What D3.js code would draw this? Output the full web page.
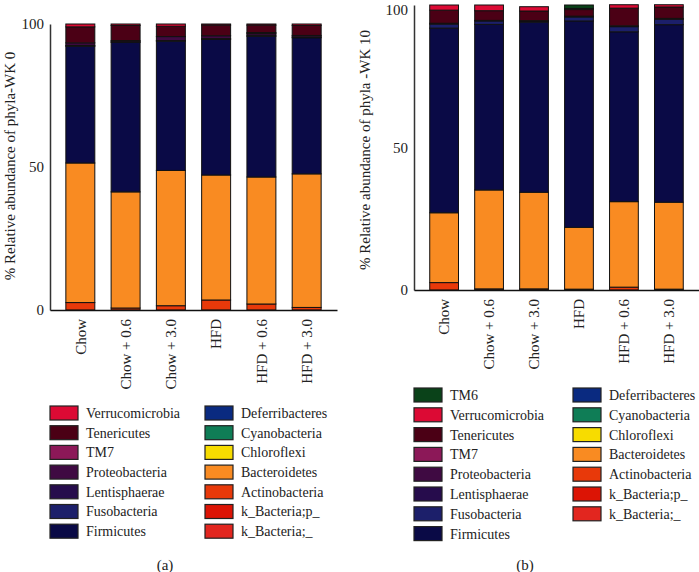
<!DOCTYPE html>
<html>
<head>
<meta charset="utf-8">
<script src="https://cdn.jsdelivr.net/npm/d3@7"></script>
<style>
  body { margin: 0; background: #fff; }
  svg text { font-family: "Liberation Serif", "DejaVu Serif", serif; fill: #222; }
</style>
</head>
<body>
<script>
// groups on the x axis
const groups = ["Chow", "Chow + 0.6", "Chow + 3.0", "HFD", "HFD + 0.6", "HFD + 3.0"];

// phyla, bottom of the stack first
const phyla = ["k_Bacteria;_", "k_Bacteria;p_", "Actinobacteria", "Bacteroidetes", "Chloroflexi",
  "Cyanobacteria", "Deferribacteres", "Firmicutes", "Fusobacteria", "Lentisphaerae",
  "Proteobacteria", "TM7", "Tenericutes", "Verrucomicrobia", "TM6"];

const phylaColors = ["#e2261f", "#dc1405", "#e8390a", "#f98b22", "#f7dc00",
  "#0f7d56", "#0a2a80", "#0a0a46", "#1c1f6a", "#260c4c",
  "#3f0a42", "#8c1858", "#4b0015", "#dc0a34", "#0a4219"];

// week 0, % per group
const wk0Actinobacteria = [2.6, 0.7, 1.5, 3.5, 2.1, 0.9];
const wk0Bacteroidetes = [48.8, 40.6, 47.3, 43.7, 44.4, 46.7];
const wk0Firmicutes = [40.8, 52.3, 45.2, 47.4, 49.2, 47.6];
const wk0Fusobacteria = [0.3, 0.2, 0.2, 0.3, 0.4, 0.3];
const wk0Proteobacteria = [0.9, 0.4, 1.4, 1.0, 0.6, 0.5];
const wk0TM7 = [0, 0, 0, 0, 0.3, 0];
const wk0Tenericutes = [5.6, 5.3, 3.6, 3.7, 2.6, 3.5];
const wk0Verrucomicrobia = [1.0, 0.5, 0.8, 0.4, 0.4, 0.5];

// week 10, % per group
const wk10Actinobacteria = [2.6, 0.4, 0.4, 0.3, 1.0, 0.3];
const wk10Bacteroidetes = [24.5, 34.7, 33.9, 21.7, 30.0, 30.5];
const wk10Firmicutes = [64.8, 58.1, 59.7, 72.4, 59.6, 62.3];
const wk10Fusobacteria = [1.4, 1.2, 0.3, 1.4, 1.8, 1.9];
const wk10Proteobacteria = [0.3, 0.2, 0.2, 0.3, 0.3, 0.3];
const wk10Tenericutes = [4.6, 3.4, 3.4, 2.3, 6.2, 4.0];
const wk10Verrucomicrobia = [1.8, 2.0, 1.5, 0.4, 1.2, 0.8];
const wk10TM6 = [0, 0, 0, 1.2, 0, 0];

const yTicks = [0, 50, 100];

const zeros = groups.map(() => 0);

function buildRows(series) {
  return groups.map((g, i) => {
    const row = { group: g };
    phyla.forEach(p => { row[p] = (series[p] || zeros)[i]; });
    return row;
  });
}

const wk0Rows = buildRows({
  "Actinobacteria": wk0Actinobacteria, "Bacteroidetes": wk0Bacteroidetes,
  "Firmicutes": wk0Firmicutes, "Fusobacteria": wk0Fusobacteria,
  "Proteobacteria": wk0Proteobacteria, "TM7": wk0TM7,
  "Tenericutes": wk0Tenericutes, "Verrucomicrobia": wk0Verrucomicrobia
});
const wk10Rows = buildRows({
  "Actinobacteria": wk10Actinobacteria, "Bacteroidetes": wk10Bacteroidetes,
  "Firmicutes": wk10Firmicutes, "Fusobacteria": wk10Fusobacteria,
  "Proteobacteria": wk10Proteobacteria, "Tenericutes": wk10Tenericutes,
  "Verrucomicrobia": wk10Verrucomicrobia, "TM6": wk10TM6
});

const color = d3.scaleOrdinal().domain(phyla).range(phylaColors);

const svg = d3.select("body").append("svg")
  .attr("width", 699)
  .attr("height", 572);

function drawPanel(opts) {
  const x = d3.scaleBand()
    .domain(groups)
    .range([opts.left, opts.right])
    .paddingInner(0.36)
    .paddingOuter(0.35);

  const y = d3.scaleLinear()
    .domain([0, 100])
    .range([opts.bottom, opts.top]);

  const stacked = d3.stack().keys(opts.keys)(opts.rows);

  // bars
  svg.append("g")
    .selectAll("g")
    .data(stacked)
    .join("g")
    .attr("fill", d => color(d.key))
    .selectAll("rect")
    .data(d => d.filter(s => s[1] - s[0] > 0))
    .join("rect")
    .attr("x", d => x(d.data.group))
    .attr("y", d => y(d[1]))
    .attr("width", x.bandwidth())
    .attr("height", d => y(d[0]) - y(d[1]))
    .attr("stroke", "#111")
    .attr("stroke-width", 1);

  // y axis
  const yAxis = svg.append("g")
    .attr("transform", `translate(${opts.left},0)`)
    .call(d3.axisLeft(y).tickValues(yTicks).tickSize(0).tickPadding(6));
  yAxis.select(".domain").attr("stroke", "#333").attr("stroke-width", 1.5);
  yAxis.selectAll("text").style("font-size", "15px");
  // keep the top label inside the page
  yAxis.selectAll("text")
    .filter(d => y(d) < 10)
    .attr("dy", "0.6em");

  // x axis
  const xAxis = svg.append("g")
    .attr("transform", `translate(0,${opts.bottom})`)
    .call(d3.axisBottom(x).tickSize(0));
  xAxis.select(".domain").attr("stroke", "#111").attr("stroke-width", 1.5);
  xAxis.selectAll("text")
    .style("font-size", "15px")
    .attr("text-anchor", "end")
    .attr("transform", "rotate(-90)")
    .attr("x", -9)
    .attr("y", 0)
    .attr("dy", "0.35em");

  // y title
  svg.append("text")
    .attr("transform", `translate(${opts.titleX},${opts.titleY}) rotate(-90)`)
    .attr("text-anchor", "middle")
    .attr("dy", "0.35em")
    .style("font-size", "15px")
    .text(opts.title);

  // legend, two columns, top of the stack first
  const items = opts.keys.slice().reverse();
  const half = Math.ceil(items.length / 2);
  const legend = svg.append("g");
  items.forEach((name, i) => {
    const col = i < half ? 0 : 1;
    const row = col === 0 ? i : i - half;
    const gx = opts.legendX[col];
    const gy = opts.legendY + row * opts.legendStep;
    legend.append("rect")
      .attr("x", gx)
      .attr("y", gy - 7)
      .attr("width", 28)
      .attr("height", 14)
      .attr("fill", color(name))
      .attr("stroke", "#222")
      .attr("stroke-width", 1.2);
    legend.append("text")
      .attr("x", gx + 36)
      .attr("y", gy)
      .attr("dy", "0.35em")
      .style("font-size", "14px")
      .text(name);
  });

  // panel letter
  svg.append("text")
    .attr("x", opts.letterX)
    .attr("y", 565)
    .attr("dy", "0.35em")
    .attr("text-anchor", "middle")
    .style("font-size", "15px")
    .text(opts.letter);
}

drawPanel({
  rows: wk0Rows,
  keys: phyla.filter(p => p !== "TM6"),
  left: 50, right: 337, top: 24, bottom: 310,
  title: "% Relative abundance of phyla-WK 0",
  titleX: 10, titleY: 166,
  legendX: [50, 205], legendY: 413, legendStep: 19.7,
  letter: "(a)", letterX: 165
});

drawPanel({
  rows: wk10Rows,
  keys: phyla,
  left: 414, right: 699, top: 5, bottom: 290,
  title: "% Relative abundance of phyla -WK 10",
  titleX: 365, titleY: 150,
  legendX: [414, 573], legendY: 395, legendStep: 19.8,
  letter: "(b)", letterX: 525
});
</script>
</body>
</html>
